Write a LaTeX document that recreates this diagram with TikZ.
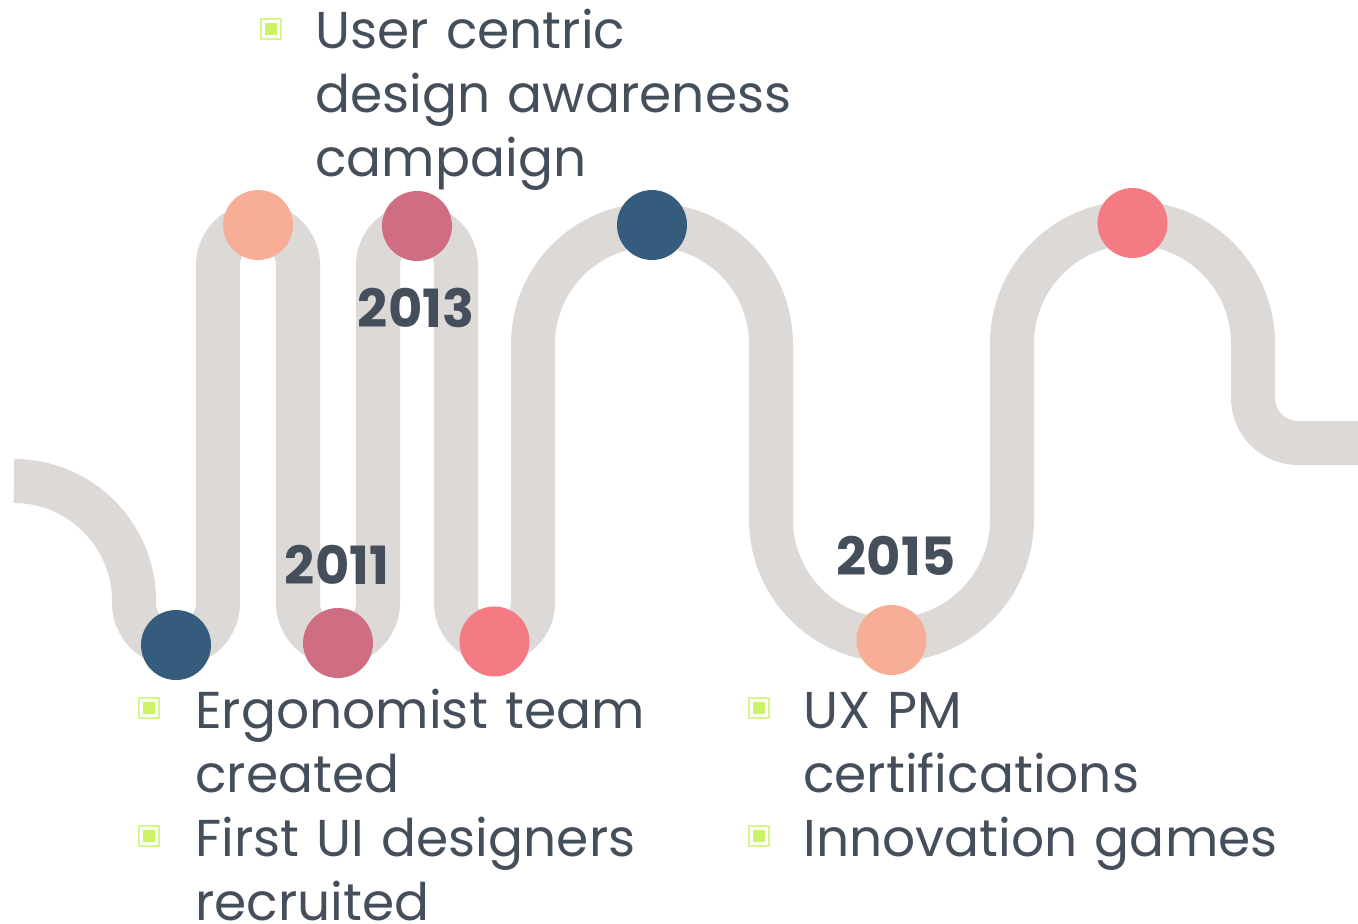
\documentclass[tikz,border=0pt]{standalone}
\usepackage{fontspec}
\setmainfont{Poppins}
\usetikzlibrary{positioning}

\definecolor{roadgray}{HTML}{DDD9D7}
\definecolor{navy}{HTML}{365C7D}
\definecolor{peach}{HTML}{F8AD96}
\definecolor{rose}{HTML}{CF6D82}
\definecolor{coral}{HTML}{F47A84}
\definecolor{ink}{HTML}{454F5C}
\definecolor{limefill}{HTML}{CCF266}
\definecolor{limeedge}{HTML}{D6F78A}

\tikzset{
  road/.style={draw=roadgray, line width=0.88cm},
  dot/.style={circle, fill=#1, minimum size=1.4cm, inner sep=0pt},
  year/.style={text=ink, inner sep=0pt, font=\fontsize{30}{36}\selectfont\bfseries},
  item/.style={text=ink, inner sep=0pt, anchor=base west, align=left, text width=11cm, font=\fontsize{29.5}{36.5}\selectfont},
  tickbox/.style={draw=limeedge, line width=1pt, minimum size=0.4cm, inner sep=0pt,
    path picture={\fill[limefill] ([shift={(-6,-6)}]path picture bounding box.center) rectangle ([shift={(6,6)}]path picture bounding box.center);}}
}

\begin{document}
\begin{tikzpicture}[x=0.02cm, y=0.02cm]
		\useasboundingbox (0,0) rectangle (1358,-923);
		
		\coordinate (start) at (14,-481);
		\coordinate (finish) at (1358,-443);
		
		% the winding road
		\draw[road] (start) arc (90:0:120) -- (134,-603) arc (180:360:42) -- (218,-265) arc (180:0:40)
		-- (298,-603) arc (180:360:40) -- (378,-265) arc (180:0:39) -- (456,-603) arc (180:360:38.5)
		-- (533,-344) arc (180:0:119) -- (771,-519.5) arc (180:360:120.5) -- (1012,-343.5) arc (180:0:120.5)
		-- (1253,-398) arc (180:270:45) -- (finish);
		
		\node[dot=navy] (d1) at (176,-645) {};
		\node[dot=peach] (d2) at (258,-225) {};
		\node[dot=rose] (d3) at (338,-643) {};
		\node[dot=rose] (d4) at (417,-226) {};
		\node[dot=coral] (d5) at (494.5,-641.5) {};
		\node[dot=navy] (d6) at (652,-225) {};
		\node[dot=peach] (d7) at (891.5,-640) {};
		\node[dot=coral] (d8) at (1132.5,-223) {};
		
		\node[year] (y1) at (337,-565) {2011};
		\node[year] (y2) at (416,-308) {2013};
		\node[year] (y3) at (896,-556) {2015};
		
		\node[item] (t1) at (315,-48) {User centric\\design awareness\\campaign};
		\node[item] (t2) at (195,-728) {Ergonomist team\\created\\First UI designers\\recruited};
		\node[item] (t3) at (803,-728) {UX PM\\certifications\\Innovation games};
		
		\node[tickbox] (b1) at (271,-29) {};
		\node[tickbox] (b2) at (149,-708) {};
		\node[tickbox] (b3) at (149,-836) {};
		\node[tickbox] (b4) at (759,-708) {};
		\node[tickbox] (b5) at (759,-836) {};
\end{tikzpicture}
\end{document}
